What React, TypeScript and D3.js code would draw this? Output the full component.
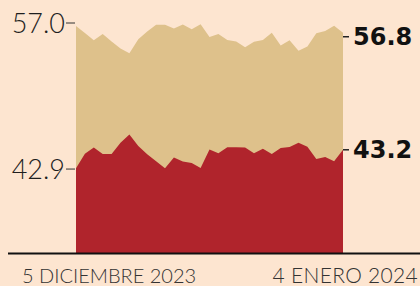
import React from 'react';
import * as d3 from 'd3';

// daily readings, 5 Dec 2023 -> 4 Jan 2024
const startDate = new Date(2023, 11, 5);
const upperSeries = [
    56.71, 56.04, 55.34, 55.93, 55.22, 54.53, 54.07, 55.42, 56.19, 56.82,
    56.84, 56.46, 56.86, 56.39, 56.88, 55.66, 55.94, 55.36, 55.21, 54.66,
    55.20, 55.36, 56.06, 54.82, 55.34, 54.31, 54.73, 56.01, 56.23, 56.74,
    56.06
];
const lowerSeries = [
    42.97, 44.37, 44.97, 44.35, 44.35, 45.43, 46.23, 45.13, 44.34, 43.65,
    42.97, 44.02, 43.63, 43.48, 43.00, 44.79, 44.42, 45.00, 45.00, 44.99,
    44.42, 44.87, 44.35, 44.93, 45.04, 45.45, 45.05, 43.88, 44.06, 43.66,
    44.76
];
const leftTicks = [57.0, 42.9];
const endLabels = ['56.8', '43.2'];
const dateLabels = ['5 DICIEMBRE 2023', '4 ENERO 2024'];

const width = 420;
const height = 286;
const bg = '#fde5d0';
const tan = '#dec18b';
const red = '#b0242c';

function App() {
    const dates = upperSeries.map((_, i) => d3.timeDay.offset(startDate, i));

    const x = d3.scaleTime()
        .domain([dates[0], dates[dates.length - 1]])
        .range([76, 343]);

    const y = d3.scaleLinear()
        .domain([34.7, 57.0])
        .range([254, 23]);

    const area = d3.area<number>()
        .x((_, i) => x(dates[i]))
        .y0(y(34.7))
        .y1((d) => y(d));

    const last = upperSeries.length - 1;
    const endY = [y(upperSeries[last]) + 4, y(lowerSeries[last])];

    return (
        <svg width={width} height={height}
             style={{position: 'absolute', left: 0, top: 0, background: bg}}>
            <rect width={width} height={height} fill={bg}/>
            <path d={area(upperSeries) || ''} fill={tan}/>
            <path d={area(lowerSeries) || ''} fill={red}/>

            {/* baseline */}
            <line x1={8} x2={420} y1={253.5} y2={253.5} stroke="#111" strokeWidth={2.2}/>

            {leftTicks.map((t) => (
                <g key={t} transform={`translate(0, ${y(t)})`}>
                    <line x1={66} x2={75} stroke="#333" strokeWidth={1}/>
                    <text x={65} dy="0.36em" textAnchor="end"
                          fontFamily="Lato" fontWeight={300} fontSize={27} fill="#1e1e1e">
                        {t.toFixed(1)}
                    </text>
                </g>
            ))}

            {endLabels.map((lbl, i) => (
                <g key={lbl} transform={`translate(0, ${endY[i]})`}>
                    <line x1={343} x2={349} stroke="#222" strokeWidth={1.5}/>
                    <text x={353} dy="0.36em"
                          fontFamily="DejaVu Sans" fontWeight="bold" fontSize={24} fill="#111">
                        {lbl}
                    </text>
                </g>
            ))}

            <text x={22} y={283} fontFamily="Lato" fontWeight={300} fontSize={20} fill="#333">
                {dateLabels[0]}
            </text>
            <text x={418} y={283} textAnchor="end" fontFamily="Lato" fontWeight={300} fontSize={21}
                  letterSpacing={0.3} fill="#333">
                {dateLabels[1]}
            </text>
        </svg>
    );
}

export default App;
